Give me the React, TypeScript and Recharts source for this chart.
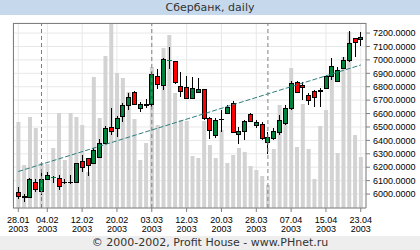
import React from 'react';
import { ComposedChart, Bar, Line, XAxis, YAxis, CartesianGrid, ReferenceLine } from 'recharts';

const tickIdx = [0, 5, 11, 17, 23, 29, 35, 41, 47, 53, 59];
const tickDates = ['28.01', '04.02', '12.02', '20.02', '03.03', '12.03', '20.03', '28.03', '07.04', '15.04', '23.04'];
const tickYears = ['2003', '2003', '2003', '2003', '2003', '2003', '2003', '2003', '2003', '2003', '2003'];
const monthStarts = [4, 23, 43];
const priceTicks = [6000, 6100, 6200, 6300, 6400, 6500, 6600, 6700, 6800, 6900, 7000, 7100, 7200];

const opens = [6013, 5982, 5978, 6092, 6020, 6110, 6125, 6119, 6092, 6089,
  6092, 6243, 6266, 6229, 6278, 6378, 6497, 6494, 6583, 6663,
  6762, 6643, 6670, 6668, 6881, 6812, 6996, 6991, 6807, 6795,
  6717, 6757, 6780, 6564, 6440, 6563, 6606, 6676, 6449, 6469,
  6594, 6514, 6519, 6385, 6420, 6464, 6527, 6638, 6832, 6816,
  6738, 6767, 6770, 6787, 6881, 6842, 6936, 6998, 7160, 7153];
const highs = [6052, 5998, 6117, 6110, 6154, 6162, 6132, 6142, 6110, 6139,
  6233, 6291, 6272, 6340, 6410, 6510, 6638, 6583, 6676, 6750,
  6767, 6688, 6708, 6911, 6929, 7011, 7097, 6995, 6911, 6881,
  6874, 6866, 6782, 6576, 6564, 6626, 6663, 6690, 6501, 6551,
  6601, 6551, 6536, 6464, 6489, 6589, 6663, 6844, 6842, 6835,
  6750, 6775, 6787, 6887, 7011, 6948, 7023, 7214, 7165, 7209];
const lows = [5960, 5943, 5972, 6017, 5993, 6108, 6080, 6030, 6077, 6077,
  6084, 6166, 6136, 6225, 6270, 6370, 6440, 6427, 6534, 6626,
  6663, 6613, 6643, 6650, 6780, 6775, 6930, 6820, 6725, 6710,
  6715, 6750, 6551, 6410, 6420, 6464, 6594, 6455, 6370, 6402,
  6540, 6494, 6405, 6300, 6402, 6440, 6514, 6630, 6750, 6700,
  6663, 6650, 6650, 6780, 6849, 6835, 6930, 6986, 7023, 7105];
const closes = [5985, 5978, 6112, 6037, 6110, 6139, 6128, 6062, 6092, 6089,
  6233, 6203, 6214, 6328, 6378, 6490, 6469, 6568, 6663, 6725,
  6670, 6670, 6665, 6892, 6822, 7003, 7000, 6832, 6767, 6717,
  6792, 6782, 6568, 6477, 6551, 6563, 6646, 6460, 6469, 6544,
  6544, 6534, 6415, 6422, 6469, 6551, 6638, 6825, 6762, 6797,
  6700, 6725, 6778, 6879, 6954, 6924, 6998, 7123, 7130, 7172];
const volumes = [86, 43, 91, 80, 45, 44, 60, 95, 48, 95,
  91, 83, 36, 131, 90, 152, 185, 135, 130, 116,
  89, 48, 65, 141, 83, 160, 173, 115, 88, 87,
  52, 50, 87, 63, 50, 78, 45, 53, 60, 56,
  42, 38, 32, 23, 59, 103, 100, 140, 61, 104,
  59, 29, 82, 98, 142, 55, 151, 176, 73, 51];
const trendStart = 6168;
const trendEnd = 6962;

const data = opens.map((o, i) => ({
  i,
  o,
  h: highs[i],
  l: lows[i],
  c: closes[i],
  v: volumes[i],
  range: [lows[i], highs[i]],
  trend: i === 0 ? trendStart : i === opens.length - 1 ? trendEnd : undefined,
}));

const FONT = 'Arial, "Liberation Sans", sans-serif';

const Candle = (props: any) => {
  const { x, y, width, height, payload } = props;
  if (x == null || !payload) return null;
  const { o, h, l, c } = payload;
  const yTop = Math.min(y, y + height);
  const hh = Math.abs(height);
  const k = h === l ? 0 : hh / (h - l);
  const py = (v: number) => yTop + (h - v) * k;
  const cx = Math.round(x + width / 2);
  const top = Math.round(py(Math.max(o, c))) + 0.5;
  const bot = Math.round(py(Math.min(o, c))) + 0.5;
  const color = c > o ? '#00823c' : c < o ? '#ff0000' : '#000';
  return (
    <g>
      <line x1={cx + 0.5} x2={cx + 0.5} y1={Math.round(yTop)} y2={Math.round(yTop + hh)} stroke="#000" strokeWidth={1} />
      {c === o || bot - top < 1 ? (
        <line x1={cx - 2} x2={cx + 3} y1={top} y2={top} stroke={c === o ? '#000' : color} strokeWidth={1} />
      ) : (
        <rect x={cx - 1.5} y={top} width={4} height={bot - top} fill={color} stroke="#000" strokeWidth={1} />
      )}
    </g>
  );
};

const XTick = (props: any) => {
  const { x, y, payload } = props;
  const k = tickIdx.indexOf(payload.value);
  if (k < 0) return null;
  return (
    <g>
      <line x1={x} x2={x} y1={y} y2={y + 4} stroke="#808080" />
      <text x={x} y={y + 14.5} textAnchor="middle" fontSize={9} fontFamily={FONT} fill="#000">{tickDates[k]}</text>
      <text x={x} y={y + 23.7} textAnchor="middle" fontSize={9} fontFamily={FONT} fill="#000">{tickYears[k]}</text>
    </g>
  );
};

export default function App() {
  return (
    <div style={{ position: 'fixed', left: 0, top: 0, width: 420, height: 250, background: '#fff', overflow: 'hidden' }}>
      <div style={{ position: 'absolute', left: 0, top: 0, width: 420, height: 15, background: '#c6d9ec', color: '#333', fontFamily: '"DejaVu Sans", Verdana, sans-serif', fontSize: 11, lineHeight: '15px', textAlign: 'center' }}>
        Сбербанк, daily
      </div>
      <ComposedChart width={420} height={250} data={data} margin={{ top: 23, left: 13, right: 0, bottom: 14 }}>
        <CartesianGrid xAxisId="main" yAxisId="price" stroke="#e8e8e8" />
        <XAxis xAxisId="main" dataKey="i" type="number" domain={[-0.91, 59.9]} allowDataOverflow ticks={tickIdx} interval={0}
          tick={<XTick />} tickLine={false} tickSize={0} tickMargin={0} axisLine={{ stroke: '#808080' }} height={28} />
        <XAxis xAxisId="vol" dataKey="i" type="number" domain={[-0.91, 59.9]} allowDataOverflow hide />
        <YAxis yAxisId="price" orientation="right" domain={[5896, 7275]} allowDataOverflow ticks={priceTicks} interval={0}
          tickFormatter={(v: number) => v.toFixed(4)} width={54} tickSize={4} tickMargin={3}
          tick={{ fontSize: 9, fill: '#000', fontFamily: FONT }} axisLine={{ stroke: '#808080' }} tickLine={{ stroke: '#808080' }} />
        <YAxis yAxisId="vol" domain={[0, 185]} allowDataOverflow hide />
        <Bar xAxisId="vol" yAxisId="vol" dataKey="v" fill="#d3d3d3" barSize={4} isAnimationActive={false} />
        {monthStarts.map((m) => (
          <ReferenceLine key={m} xAxisId="main" yAxisId="price" x={m} stroke="#808080" strokeDasharray="4 3" />
        ))}
        <Line xAxisId="main" yAxisId="price" dataKey="trend" connectNulls stroke="#2f7f7f" strokeDasharray="5 2" strokeWidth={1} dot={false} activeDot={false} isAnimationActive={false} />
        <Bar xAxisId="main" yAxisId="price" dataKey="range" barSize={5} shape={<Candle />} isAnimationActive={false} />
      </ComposedChart>
      <div style={{ position: 'absolute', left: 13, top: 23, width: 353, height: 185, borderTop: '1px solid #808080', borderLeft: '1px solid #808080', boxSizing: 'border-box', pointerEvents: 'none' }} />
      <div style={{ position: 'absolute', left: 0, top: 236, width: 420, height: 14, background: '#eeeeee', color: '#333', fontFamily: '"DejaVu Sans", Verdana, sans-serif', fontSize: 11, lineHeight: '14px', textAlign: 'center' }}>
        © 2000-2002, Profit House - www.PHnet.ru
      </div>
    </div>
  );
}
